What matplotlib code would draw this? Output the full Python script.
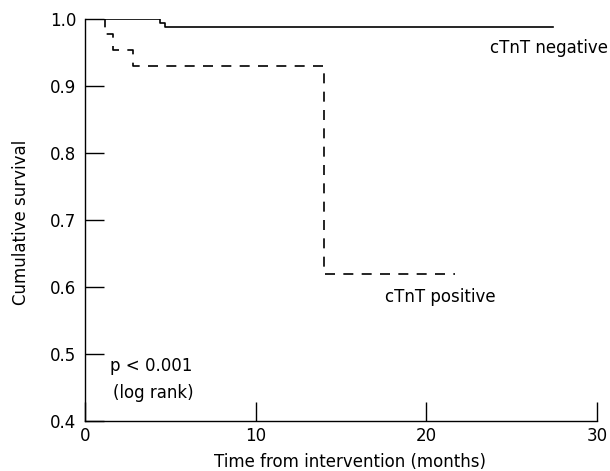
import matplotlib
matplotlib.use("Agg")
import matplotlib.pyplot as plt

# Kaplan-Meier style step data
neg_time = [0, 4.4, 4.7, 27.4]
neg_surv = [1.0, 0.994, 0.988, 0.988]

pos_time = [0, 1.2, 1.66, 2.8, 14.0, 21.7]
pos_surv = [1.0, 0.977, 0.954, 0.930, 0.62, 0.62]

x_ticks = [0, 10, 20, 30]
y_ticks = [0.4, 0.5, 0.6, 0.7, 0.8, 0.9, 1.0]

plt.rcParams['font.family'] = ['DejaVu Sans']
fs = 12

fig = plt.figure(figsize=(6.1, 4.71), dpi=100)
ax = fig.add_axes([0.139, 0.106, 0.840, 0.854])

ax.plot(neg_time, neg_surv, drawstyle='steps-post', color='black', linewidth=1.2)
ax.plot(pos_time, pos_surv, drawstyle='steps-post', color='black', linewidth=1.2,
        linestyle=(0, (6, 5)))

ax.set_xlim(0, 30)
ax.set_ylim(0.4, 1.0)
ax.set_xticks(x_ticks)
ax.set_yticks(y_ticks)
ax.set_yticklabels([f"{v:.1f}" for v in y_ticks])

ax.spines['top'].set_visible(False)
ax.spines['right'].set_visible(False)
for s in ['left', 'bottom']:
    ax.spines[s].set_linewidth(1.0)
ax.tick_params(direction='in', length=14, width=1.0, labelsize=fs)
ax.tick_params(axis='y', pad=6)
ax.tick_params(axis='x', pad=4)

# axis titles placed in figure coordinates
fig.text(350 / 610, 1 - 462 / 471, 'Time from intervention (months)', fontsize=fs,
         ha='center', va='center')
fig.text(21 / 610, 1 - 222 / 471, 'Cumulative survival', fontsize=fs,
         ha='center', va='center', rotation=90)

ax.text(30.64, 0.957, 'cTnT negative', fontsize=fs, ha='right', va='center', clip_on=False)
ax.text(17.57, 0.585, 'cTnT positive', fontsize=fs, ha='left', va='center')
ax.text(1.46, 0.482, 'p < 0.001', fontsize=fs, ha='left', va='center')
ax.text(1.64, 0.442, '(log rank)', fontsize=fs, ha='left', va='center')

fig.savefig('out.png', dpi=100)
